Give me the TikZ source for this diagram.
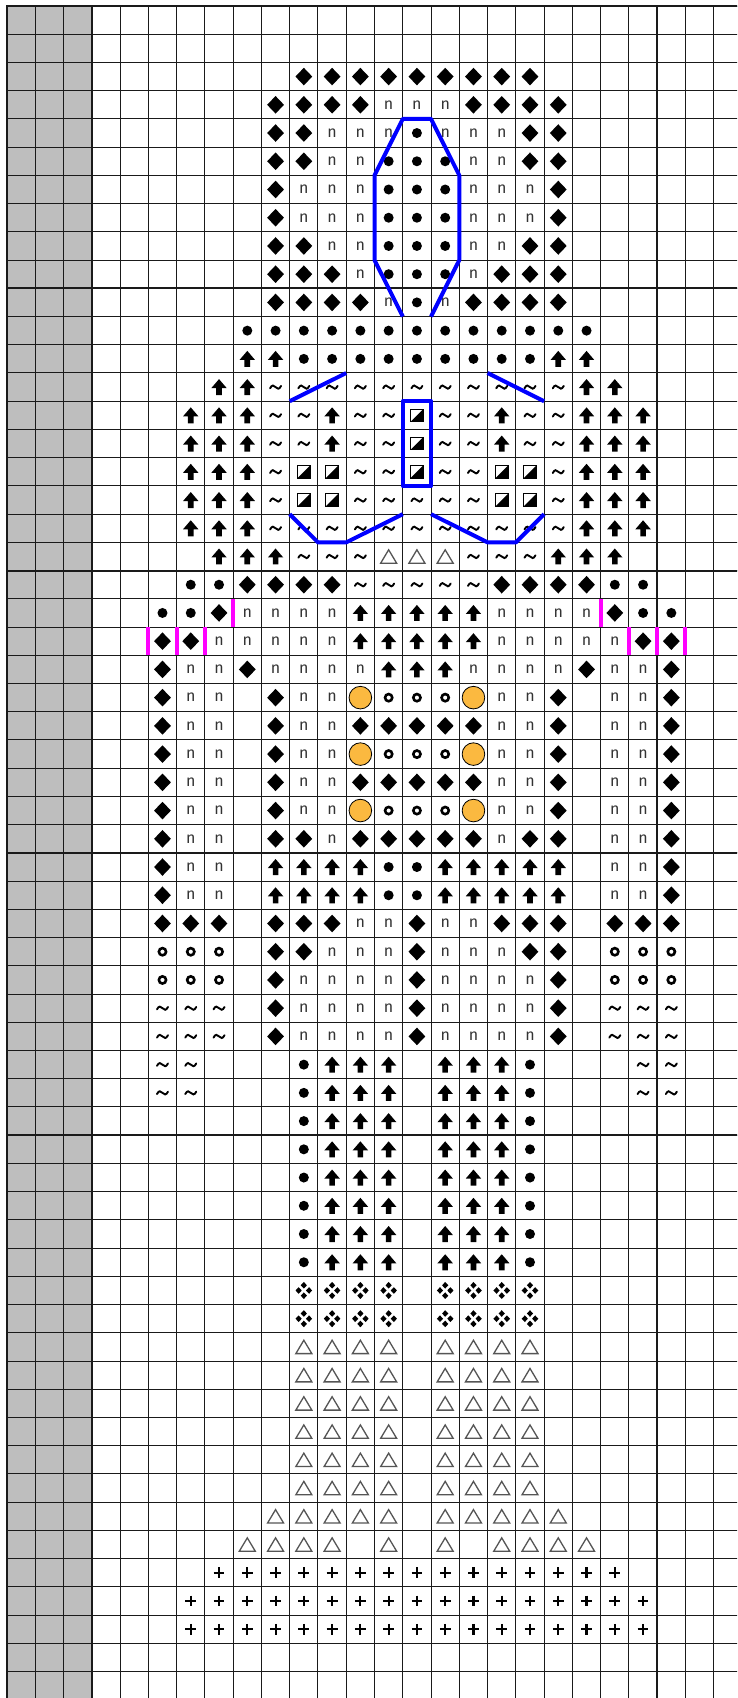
\documentclass[tikz,border=0pt]{standalone}
\usepackage{fontspec}
\newfontfamily\nfont{Fira Sans}
\definecolor{cellgray}{HTML}{BEBEBE}
\definecolor{gridc}{HTML}{1A1A1A}
\definecolor{orng}{HTML}{FBB940}
\definecolor{bluel}{HTML}{0000FF}
\definecolor{magl}{HTML}{FF00FF}
\definecolor{trig}{HTML}{555555}
\newcommand\SX{28.27}
\newcommand\SY{28.23}
\tikzset{
  nsym/.style={font=\nfont\fontsize{16}{16}\selectfont, text=black!80, inner sep=0pt},
  thin grid/.style={draw=gridc, line width=1pt},
  thick grid/.style={draw=gridc, line width=1.9pt},
  blueline/.style={draw=bluel, line width=4pt, line join=round},
  magline/.style={draw=magl, line width=4pt},
}
% symbols, argument = centre "x,y"
\newcommand\syme[1]{}
\newcommand\symD[1]{\fill[black] (#1) +(0,-8.8) -- +(8.4,0) -- +(0,8.8) -- +(-8.4,0) -- cycle;}
\newcommand\symo[1]{\fill[black] (#1) circle[radius=5];}
\newcommand\symn[1]{\node[nsym] (n\currow-\cc) at (#1) {n};}
\newcommand\symA[1]{\fill[black] (#1) +(0,-8) -- +(7.7,1) -- +(2.8,1) -- +(2.8,8) -- +(-2.8,8) -- +(-2.8,1) -- +(-7.7,1) -- cycle;}
\newcommand\symt[1]{\begin{scope}[shift={(#1)}]\draw[line width=1.9pt,line cap=round] (-5.5,1.2) .. controls (-3.5,-2.8) and (-1.8,-1.8) .. (0,0) .. controls (1.8,1.8) and (3.5,2.8) .. (5.5,-1.2);\end{scope}}
\newcommand\symh[1]{\begin{scope}[shift={(#1)}]\fill[black] (-6.3,6.3) -- (6.3,-6.3) -- (6.3,6.3) -- cycle;\draw[line width=0.9pt] (-6.3,-6.3) rectangle (6.3,6.3);\end{scope}}
\newcommand\symr[1]{\draw[line width=2.6pt] (#1) circle[radius=3.6];}
\newcommand\symT[1]{\begin{scope}[shift={(#1)}]\draw[trig,line width=1.3pt] (0,-6.7) -- (8,6.7) -- (-8,6.7) -- cycle;\end{scope}}
\newcommand\symf[1]{\begin{scope}[shift={(#1)}]\foreach \dx/\dy in {0/-5.2,-5.2/0,5.2/0,0/5.2}{\fill[black] (\dx,\dy) +(0,-3.3) -- +(3.1,0) -- +(0,3.3) -- +(-3.1,0) -- cycle;}\end{scope}}
\newcommand\symp[1]{\begin{scope}[shift={(#1)}]\draw[line width=2.1pt] (-5.4,0) -- (5.4,0) (0,-5.4) -- (0,5.4);\end{scope}}
\newcommand\symO[1]{\filldraw[fill=orng,draw=black,line width=0.8pt] (#1) circle[radius=11.3];}
\newcommand\ChartRow[2]{%
  \def\currow{#1}%
  \foreach \sy [count=\cc from 5] in {#2}{%
    \csname sym\sy\endcsname{{7+(\cc+0.5)*\SX},{6+(#1+0.5)*\SY}}%
  }}
\begin{document}
\begin{tikzpicture}[x=1pt,y=-1pt]
\useasboundingbox (0,0) rectangle (737,1698);
\clip (0,0) rectangle (737,1698);
\fill[white] (0,0) rectangle (737,1698);
\fill[cellgray] (7,6) rectangle ({7+3*\SX},1710);
% grid
\foreach \c in {0,...,26} \draw[thin grid] ({7+\c*\SX},6) -- ({7+\c*\SX},1710);
\foreach \r in {0,...,61} \draw[thin grid] (7,{6+\r*\SY}) -- (745,{6+\r*\SY});
\foreach \c in {0,3,13,23} \draw[thick grid] ({7+\c*\SX},5) -- ({7+\c*\SX},1710);
\foreach \r in {0,10,20,30,40,50} \draw[thick grid] (6,{6+\r*\SY}) -- (745,{6+\r*\SY});
% grid points
\foreach \c in {5,...,24} \foreach \r in {4,...,23} \coordinate (p\c-\r) at ({7+\c*\SX},{6+\r*\SY});
% symbols
\ChartRow{2}{e,e,e,e,e,D,D,D,D,D,D,D,D,D}
\ChartRow{3}{e,e,e,e,D,D,D,D,n,n,n,D,D,D,D}
\ChartRow{4}{e,e,e,e,D,D,n,n,n,o,n,n,n,D,D}
\foreach \r in {5,8} {\ChartRow{\r}{e,e,e,e,D,D,n,n,o,o,o,n,n,D,D}}
\foreach \r in {6,7} {\ChartRow{\r}{e,e,e,e,D,n,n,n,o,o,o,n,n,n,D}}
\ChartRow{9}{e,e,e,e,D,D,D,n,o,o,o,n,D,D,D}
\ChartRow{10}{e,e,e,e,D,D,D,D,n,o,n,D,D,D,D}
\ChartRow{11}{e,e,e,o,o,o,o,o,o,o,o,o,o,o,o,o}
\ChartRow{12}{e,e,e,A,A,o,o,o,o,o,o,o,o,o,A,A}
\ChartRow{13}{e,e,A,A,t,t,t,t,t,t,t,t,t,t,t,A,A}
\foreach \r in {14,15} {\ChartRow{\r}{e,A,A,A,t,t,A,t,t,h,t,t,A,t,t,A,A,A}}
\ChartRow{16}{e,A,A,A,t,h,h,t,t,h,t,t,h,h,t,A,A,A}
\ChartRow{17}{e,A,A,A,t,h,h,t,t,t,t,t,h,h,t,A,A,A}
\ChartRow{18}{e,A,A,A,t,t,t,t,t,t,t,t,t,t,t,A,A,A}
\ChartRow{19}{e,e,A,A,A,t,t,t,T,T,T,t,t,t,A,A,A}
\ChartRow{20}{e,o,o,D,D,D,D,t,t,t,t,t,D,D,D,D,o,o}
\ChartRow{21}{o,o,D,n,n,n,n,A,A,A,A,A,n,n,n,n,D,o,o}
\ChartRow{22}{D,D,n,n,n,n,n,A,A,A,A,A,n,n,n,n,n,D,D}
\ChartRow{23}{D,n,n,D,n,n,n,n,A,A,A,n,n,n,n,D,n,n,D}
\foreach \r in {24,26,28} {\ChartRow{\r}{D,n,n,e,D,n,n,O,r,r,r,O,n,n,D,e,n,n,D}}
\foreach \r in {25,27} {\ChartRow{\r}{D,n,n,e,D,n,n,D,D,D,D,D,n,n,D,e,n,n,D}}
\ChartRow{29}{D,n,n,e,D,D,n,D,D,D,D,D,n,D,D,e,n,n,D}
\foreach \r in {30,31} {\ChartRow{\r}{D,n,n,e,A,A,A,A,o,o,A,A,A,A,A,e,n,n,D}}
\ChartRow{32}{D,D,D,e,D,D,D,n,n,D,n,n,D,D,D,e,D,D,D}
\ChartRow{33}{r,r,r,e,D,D,n,n,n,D,n,n,n,D,D,e,r,r,r}
\ChartRow{34}{r,r,r,e,D,n,n,n,n,D,n,n,n,n,D,e,r,r,r}
\foreach \r in {35,36} {\ChartRow{\r}{t,t,t,e,D,n,n,n,n,D,n,n,n,n,D,e,t,t,t}}
\foreach \r in {37,38} {\ChartRow{\r}{t,t,e,e,e,o,A,A,A,e,A,A,A,o,e,e,e,t,t}}
\foreach \r in {39,...,44} {\ChartRow{\r}{e,e,e,e,e,o,A,A,A,e,A,A,A,o}}
\foreach \r in {45,46} {\ChartRow{\r}{e,e,e,e,e,f,f,f,f,e,f,f,f,f}}
\foreach \r in {47,...,52} {\ChartRow{\r}{e,e,e,e,e,T,T,T,T,e,T,T,T,T}}
\ChartRow{53}{e,e,e,e,T,T,T,T,T,e,T,T,T,T,T}
\ChartRow{54}{e,e,e,T,T,T,T,e,T,e,T,e,T,T,T,T}
\ChartRow{55}{e,e,p,p,p,p,p,p,p,p,p,p,p,p,p,p,p}
\foreach \r in {56,57} {\ChartRow{\r}{e,p,p,p,p,p,p,p,p,p,p,p,p,p,p,p,p,p}}
% blue outlines
\draw[blueline] (p14-11) -- (p13-9) -- (p13-6) -- (p14-4) -- (p15-4) -- (p16-6) -- (p16-9) -- (p15-11);
\draw[blueline] (p10-14) -- (p12-13);
\draw[blueline] (p17-13) -- (p19-14);
\draw[blueline] (p14-14) rectangle (p15-17);
\draw[blueline] (p10-18) -- (p11-19) -- (p12-19) -- (p14-18);
\draw[blueline] (p15-18) -- (p17-19) -- (p18-19) -- (p19-18);
% magenta marks
\draw[magline] (p8-21) -- (p8-22);
\draw[magline] (p21-21) -- (p21-22);
\foreach \c in {5,6,7,22,23,24} \draw[magline] (p\c-22) -- (p\c-23);
\end{tikzpicture}
\end{document}
